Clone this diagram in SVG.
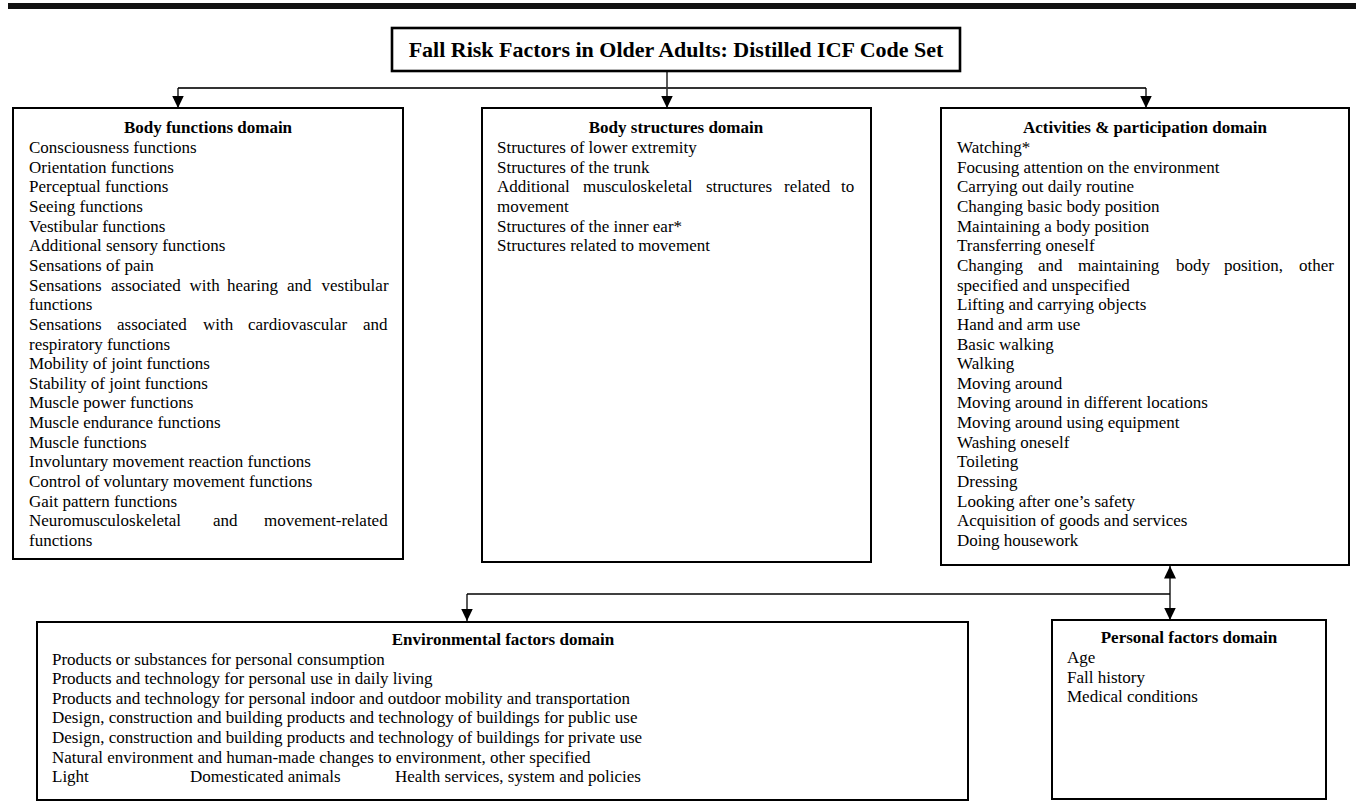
<svg xmlns="http://www.w3.org/2000/svg" width="1356" height="807" viewBox="0 0 1356 807">
<style>
.box{fill:#fff;stroke:#000;stroke-width:2}
.tbox{fill:#fff;stroke:#000;stroke-width:2.6}
.t{font-family:"Liberation Serif","Times New Roman",serif;font-size:17px;fill:#000}
.h{font-family:"Liberation Serif","Times New Roman",serif;font-size:17px;font-weight:bold;fill:#000;text-anchor:middle}
.title{font-family:"Liberation Serif","Times New Roman",serif;font-size:22px;font-weight:bold;fill:#000;text-anchor:middle}
.c{fill:none;stroke:#000;stroke-width:1.3}
.ch{fill:none;stroke:#333;stroke-width:1.8}
</style>
<defs>
<marker id="ad" markerUnits="userSpaceOnUse" markerWidth="13" markerHeight="12" viewBox="0 0 13 12" refX="12.5" refY="6" orient="auto-start-reverse">
<path d="M0,0 L12.5,6 L0,12 Z" fill="#000"/>
</marker>
</defs>
<rect width="1356" height="807" fill="#fff"/>
<rect id="topbar" x="8" y="3" width="1348" height="6" fill="#111"/>

<g id="connectors">
<line class="c" x1="667" y1="71" x2="667" y2="108" marker-end="url(#ad)"/>
<line class="ch" x1="178" y1="88" x2="1146" y2="88"/>
<line class="c" x1="178" y1="88" x2="178" y2="108" marker-end="url(#ad)"/>
<line class="c" x1="1146" y1="88" x2="1146" y2="108" marker-end="url(#ad)"/>
<line class="c" x1="1170" y1="566" x2="1170" y2="620" marker-start="url(#ad)" marker-end="url(#ad)"/>
<line class="c" x1="467" y1="594" x2="1170" y2="594"/>
<line class="c" x1="467" y1="594" x2="467" y2="621" marker-end="url(#ad)"/>
</g>

<g id="title">
<rect class="tbox" x="392" y="28" width="568" height="43"/>
<text class="title" x="676" y="57">Fall Risk Factors in Older Adults: Distilled ICF Code Set</text>
</g>

<g id="body-functions">
<rect class="box" x="13" y="108" width="390" height="451"/>
<text class="h" x="208" y="133">Body functions domain</text>
<text class="t">
<tspan x="29" y="153">Consciousness functions</tspan>
<tspan x="29" y="172.65">Orientation functions</tspan>
<tspan x="29" y="192.3">Perceptual functions</tspan>
<tspan x="29" y="211.95">Seeing functions</tspan>
<tspan x="29" y="231.6">Vestibular functions</tspan>
<tspan x="29" y="251.25">Additional sensory functions</tspan>
<tspan x="29" y="270.9">Sensations of pain</tspan>
<tspan x="29" y="290.55">Sensations</tspan><tspan x="111" y="290.55">associated</tspan><tspan x="189.5" y="290.55">with</tspan><tspan x="227" y="290.55">hearing</tspan><tspan x="287" y="290.55">and</tspan><tspan x="321.5" y="290.55">vestibular</tspan>
<tspan x="29" y="310.2">functions</tspan>
<tspan x="29" y="329.85">Sensations</tspan><tspan x="117" y="329.85">associated</tspan><tspan x="203" y="329.85">with</tspan><tspan x="248" y="329.85">cardiovascular</tspan><tspan x="363" y="329.85">and</tspan>
<tspan x="29" y="349.5">respiratory functions</tspan>
<tspan x="29" y="369.15">Mobility of joint functions</tspan>
<tspan x="29" y="388.8">Stability of joint functions</tspan>
<tspan x="29" y="408.45">Muscle power functions</tspan>
<tspan x="29" y="428.1">Muscle endurance functions</tspan>
<tspan x="29" y="447.75">Muscle functions</tspan>
<tspan x="29" y="467.4">Involuntary movement reaction functions</tspan>
<tspan x="29" y="487.05">Control of voluntary movement functions</tspan>
<tspan x="29" y="506.7">Gait pattern functions</tspan>
<tspan x="29" y="526.35">Neuromusculoskeletal</tspan><tspan x="213" y="526.35">and</tspan><tspan x="264" y="526.35">movement-related</tspan>
<tspan x="29" y="546">functions</tspan>
</text>
</g>

<g id="body-structures">
<rect class="box" x="482" y="108" width="389" height="454"/>
<text class="h" x="676" y="133">Body structures domain</text>
<text class="t">
<tspan x="497" y="153">Structures of lower extremity</tspan>
<tspan x="497" y="172.65">Structures of the trunk</tspan>
<tspan x="497" y="192.3">Additional</tspan><tspan x="583" y="192.3">musculoskeletal</tspan><tspan x="706" y="192.3">structures</tspan><tspan x="784" y="192.3">related</tspan><tspan x="841" y="192.3">to</tspan>
<tspan x="497" y="211.95">movement</tspan>
<tspan x="497" y="231.6">Structures of the inner ear*</tspan>
<tspan x="497" y="251.25">Structures related to movement</tspan>
</text>
</g>

<g id="activities">
<rect class="box" x="941" y="108" width="408" height="457"/>
<text class="h" x="1145" y="133">Activities &amp; participation domain</text>
<text class="t">
<tspan x="957" y="153">Watching*</tspan>
<tspan x="957" y="172.65">Focusing attention on the environment</tspan>
<tspan x="957" y="192.3">Carrying out daily routine</tspan>
<tspan x="957" y="211.95">Changing basic body position</tspan>
<tspan x="957" y="231.6">Maintaining a body position</tspan>
<tspan x="957" y="251.25">Transferring oneself</tspan>
<tspan x="957" y="270.9">Changing</tspan><tspan x="1038" y="270.9">and</tspan><tspan x="1078" y="270.9">maintaining</tspan><tspan x="1176" y="270.9">body</tspan><tspan x="1224" y="270.9">position,</tspan><tspan x="1299" y="270.9">other</tspan>
<tspan x="957" y="290.55">specified and unspecified</tspan>
<tspan x="957" y="310.2">Lifting and carrying objects</tspan>
<tspan x="957" y="329.85">Hand and arm use</tspan>
<tspan x="957" y="349.5">Basic walking</tspan>
<tspan x="957" y="369.15">Walking</tspan>
<tspan x="957" y="388.8">Moving around</tspan>
<tspan x="957" y="408.45">Moving around in different locations</tspan>
<tspan x="957" y="428.1">Moving around using equipment</tspan>
<tspan x="957" y="447.75">Washing oneself</tspan>
<tspan x="957" y="467.4">Toileting</tspan>
<tspan x="957" y="487.05">Dressing</tspan>
<tspan x="957" y="506.7">Looking after one’s safety</tspan>
<tspan x="957" y="526.35">Acquisition of goods and services</tspan>
<tspan x="957" y="546">Doing housework</tspan>
</text>
</g>

<g id="environmental">
<rect class="box" x="37" y="622" width="931" height="178"/>
<text class="h" x="503" y="645">Environmental factors domain</text>
<text class="t">
<tspan x="52" y="664.5">Products or substances for personal consumption</tspan>
<tspan x="52" y="684.1">Products and technology for personal use in daily living</tspan>
<tspan x="52" y="703.7">Products and technology for personal indoor and outdoor mobility and transportation</tspan>
<tspan x="52" y="723.3">Design, construction and building products and technology of buildings for public use</tspan>
<tspan x="52" y="742.9">Design, construction and building products and technology of buildings for private use</tspan>
<tspan x="52" y="762.5">Natural environment and human-made changes to environment, other specified</tspan>
<tspan x="52" y="782.1">Light</tspan><tspan x="190" y="782.1">Domesticated animals</tspan><tspan x="395" y="782.1">Health services, system and policies</tspan>
</text>
</g>

<g id="personal">
<rect class="box" x="1052" y="620" width="274" height="179"/>
<text class="h" x="1189" y="643">Personal factors domain</text>
<text class="t">
<tspan x="1067" y="663">Age</tspan>
<tspan x="1067" y="682.6">Fall history</tspan>
<tspan x="1067" y="702.2">Medical conditions</tspan>
</text>
</g>
</svg>
